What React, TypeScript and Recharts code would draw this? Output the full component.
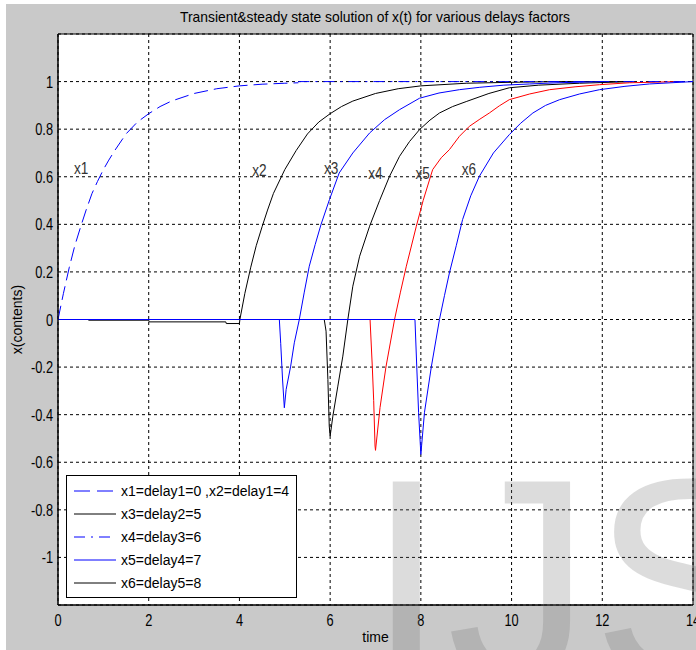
import React from 'react';
import { LineChart, Line, XAxis, YAxis, CartesianGrid, ReferenceArea, ReferenceDot, Legend } from 'recharts';

// ---------- axis ticks ----------
const xTicks = [0, 2, 4, 6, 8, 10, 12, 14];
const xTickLabels = ['0', '2', '4', '6', '8', '10', '12', '14'];
const yTicks = [-1, -0.8, -0.6, -0.4, -0.2, 0, 0.2, 0.4, 0.6, 0.8, 1];
const yTickLabels = ['-1', '-0.8', '-0.6', '-0.4', '-0.2', '0', '0.2', '0.4', '0.6', '0.8', '1'];

// ---------- series (time, value) ----------
const x1T = [0, 0.12, 0.25, 0.37, 0.5, 0.62, 0.75, 0.87, 1, 1.12, 1.25, 1.5, 1.75, 2, 2.25, 2.5, 3, 3.5, 4, 4.5, 5, 5.3];
const x1V = [0, 0.11, 0.22, 0.31, 0.39, 0.46, 0.53, 0.58, 0.63, 0.67, 0.71, 0.78, 0.83, 0.865, 0.895, 0.918, 0.95, 0.97, 0.982, 0.989, 0.993, 0.995];

const steadyT = [5.3, 14];
const steadyV = [1, 1];

const x2T = [0.67, 2, 2.01, 3.7, 3.71, 4.0, 4.01, 4.12, 4.25, 4.37, 4.5, 4.62, 4.75, 5, 5.25, 5.5, 5.75, 6, 6.25, 6.5, 7, 7.5, 8, 9, 10, 11, 12.66];
const x2V = [-0.003, -0.003, -0.01, -0.01, -0.017, -0.017, 0, 0.11, 0.22, 0.31, 0.39, 0.46, 0.53, 0.63, 0.71, 0.78, 0.83, 0.865, 0.895, 0.918, 0.95, 0.97, 0.982, 0.993, 0.997, 1, 1];

const x3T = [0, 4.88, 4.91, 4.95, 4.99, 5.03, 5.13, 5.21, 5.32, 5.43, 5.54, 5.67, 5.8, 5.985, 6.2, 6.5, 6.87, 7.2, 7.53, 7.97, 8.4, 8.85, 9.3, 9.83, 10.4, 11, 12];
const x3V = [0, 0, -0.1, -0.25, -0.371, -0.294, -0.196, -0.098, 0, 0.115, 0.224, 0.315, 0.4, 0.504, 0.616, 0.7, 0.784, 0.84, 0.882, 0.93, 0.952, 0.966, 0.976, 0.985, 0.99, 0.995, 1];

const x4T = [5.87, 5.91, 5.95, 5.98, 6.0, 6.06, 6.17, 6.28, 6.39, 6.5, 6.65, 6.87, 7.09, 7.31, 7.53, 7.75, 7.97, 8.2, 8.41, 8.7, 9.0, 9.5, 9.95, 10.6, 11.5, 12.66];
const x4V = [0, -0.049, -0.252, -0.448, -0.49, -0.406, -0.28, -0.154, 0, 0.14, 0.266, 0.392, 0.5, 0.602, 0.686, 0.748, 0.798, 0.838, 0.868, 0.895, 0.916, 0.95, 0.974, 0.985, 0.993, 1];

const x5T = [6.88, 6.93, 6.96, 6.99, 7.0, 7.1, 7.23, 7.42, 7.55, 7.68, 7.9, 8.05, 8.26, 8.45, 8.63, 8.85, 9.07, 9.3, 9.51, 9.73, 9.95, 10.4, 10.84, 11.4, 11.94, 12.6, 13.7];
const x5V = [0, -0.2, -0.34, -0.532, -0.55, -0.37, -0.2, 0, 0.115, 0.224, 0.392, 0.5, 0.63, 0.68, 0.714, 0.77, 0.812, 0.842, 0.868, 0.898, 0.924, 0.948, 0.966, 0.978, 0.987, 0.995, 1];

const x6T = [0, 7.87, 7.91, 7.95, 8.0, 8.08, 8.23, 8.41, 8.52, 8.63, 8.78, 8.92, 9.1, 9.29, 9.6, 9.95, 10.2, 10.47, 10.75, 11.06, 11.5, 11.94, 12.5, 13.04, 14];
const x6V = [0, 0, -0.2, -0.39, -0.567, -0.39, -0.2, 0, 0.1, 0.196, 0.31, 0.42, 0.52, 0.602, 0.7, 0.777, 0.825, 0.868, 0.9, 0.924, 0.948, 0.966, 0.98, 0.99, 1];

// curve name annotations and where they sit (data coords)
const curveNames = ['x1', 'x2', 'x3', 'x4', 'x5', 'x6'];
const curveNameT = [0.51, 4.44, 6.02, 7.0, 8.04, 9.06];
const curveNameV = [0.637, 0.63, 0.637, 0.616, 0.616, 0.633];

// legend entries
const legendLabels = ['x1=delay1=0 ,x2=delay1=4', 'x3=delay2=5', 'x4=delay3=6', 'x5=delay4=7', 'x6=delay5=8'];

const zip = (ts: number[], vs: number[]) => ts.map((t, i) => ({ t, v: vs[i] }));

const BLUE = '#0000ff';
const BLACK = '#000000';
const RED = '#ff0000';
const FONT = '"Liberation Sans", Arial, sans-serif';

const legendColors = [BLUE, BLACK, BLUE, BLUE, BLACK];
const legendDash = ['16 7', undefined, '11 6 2 6', undefined, undefined];

const XTick = (props: any) => {
  const { x, y, payload } = props;
  const idx = xTicks.indexOf(payload.value);
  return (
    <text transform={`translate(${x} ${y + 21}) scale(0.8 1)`} textAnchor="middle" fontFamily={FONT} fontSize={16} fill="#000">
      {idx >= 0 ? xTickLabels[idx] : payload.value}
    </text>
  );
};

const YTick = (props: any) => {
  const { x, y, payload } = props;
  const idx = yTicks.findIndex((v) => Math.abs(v - payload.value) < 1e-9);
  return (
    <text transform={`translate(${x} ${y + 6}) scale(0.8 1)`} textAnchor="end" fontFamily={FONT} fontSize={16} fill="#000">
      {idx >= 0 ? yTickLabels[idx] : payload.value}
    </text>
  );
};

const LegendBox = () => (
  <svg width={232} height={124} style={{ display: 'block' }}>
    <rect x={0.5} y={0.5} width={230} height={122} fill="#fff" stroke="#000" strokeWidth={1} />
    {legendLabels.map((lab, i) => {
      const y = 16 + i * 23;
      return (
        <g key={lab}>
          <line x1={8} x2={50} y1={y} y2={y} stroke={legendColors[i]} strokeWidth={1} strokeDasharray={legendDash[i]} />
          <text x={55} y={y + 5} fontFamily={FONT} fontSize={14} fill="#000">{lab}</text>
        </g>
      );
    })}
  </svg>
);

export default function App() {
  return (
    <div style={{ position: 'absolute', left: 0, top: 0, width: 696, height: 650, background: '#fff', overflow: 'hidden' }}>
      <div style={{ position: 'absolute', left: 6, top: 4, width: 690, height: 646, background: '#c9c9c9' }} />
      <div style={{ position: 'absolute', left: 0, top: 0 }}>
        <LineChart width={696} height={650} margin={{ top: 34, right: 3, bottom: 0, left: 0 }}>
          <CartesianGrid stroke="#000" strokeDasharray="3 3" fill="#fff" fillOpacity={1} />
          <XAxis
            dataKey="t"
            type="number"
            domain={[0, 14]}
            ticks={xTicks}
            interval={0}
            allowDataOverflow
            height={45}
            tickSize={0}
            tickMargin={0}
            tickLine={false}
            axisLine={{ stroke: '#000' }}
            tick={<XTick />}
            label={{
              content: (p: any) => (
                <text x={p.viewBox.x + p.viewBox.width / 2} y={642} textAnchor="middle" fontFamily={FONT} fontSize={14} fill="#000">
                  time
                </text>
              ),
            }}
          />
          <YAxis
            type="number"
            domain={[-1.2, 1.2]}
            ticks={yTicks}
            interval={0}
            allowDataOverflow
            width={58}
            tickSize={0}
            tickMargin={5}
            tickLine={false}
            axisLine={{ stroke: '#000' }}
            tick={<YTick />}
            label={{
              content: (p: any) => {
                const cy = p.viewBox.y + p.viewBox.height / 2;
                return (
                  <text x={22} y={cy} transform={`rotate(-90 22 ${cy})`} textAnchor="middle" fontFamily={FONT} fontSize={14} fill="#000">
                    x(contents)
                  </text>
                );
              },
            }}
          />
          <Line data={zip(x2T, x2V)} dataKey="v" stroke={BLACK} strokeWidth={1} dot={false} isAnimationActive={false} />
          <Line data={zip(x4T, x4V)} dataKey="v" stroke={BLACK} strokeWidth={1} dot={false} isAnimationActive={false} />
          <Line data={zip(x5T, x5V)} dataKey="v" stroke={RED} strokeWidth={1} dot={false} isAnimationActive={false} />
          <Line data={zip(x3T, x3V)} dataKey="v" stroke={BLUE} strokeWidth={1} dot={false} isAnimationActive={false} />
          <Line data={zip(x6T, x6V)} dataKey="v" stroke={BLUE} strokeWidth={1} dot={false} isAnimationActive={false} />
          <Line data={zip(x1T, x1V)} dataKey="v" stroke={BLUE} strokeWidth={1} strokeDasharray="14 6" dot={false} isAnimationActive={false} />
          <Line data={zip(steadyT, steadyV)} dataKey="v" stroke={BLUE} strokeWidth={1} strokeDasharray="11 6 2 6" dot={false} isAnimationActive={false} />
          {curveNames.map((n, i) => (
            <ReferenceDot
              key={n}
              x={curveNameT[i]}
              y={curveNameV[i]}
              r={0}
              shape={(p: any) => (
                <text transform={`translate(${p.cx} ${p.cy + 6}) scale(0.85 1)`} textAnchor="middle" fontFamily={FONT} fontSize={16} fill="#333">
                  {n}
                </text>
              )}
            />
          ))}
          <ReferenceArea x1={0} x2={14} y1={-1.2} y2={1.2} fill="none" fillOpacity={0} stroke="#000" strokeWidth={1} />
          <Legend
            layout="vertical"
            align="center"
            verticalAlign="middle"
            wrapperStyle={{ left: 66, top: 475, width: 232, height: 124 }}
            content={() => <LegendBox />}
          />
        </LineChart>
      </div>
      <svg width={696} height={650} style={{ position: 'absolute', left: 0, top: 0, pointerEvents: 'none' }}>
        <text x={375} y={22} textAnchor="middle" fontFamily={FONT} fontSize={15} fill="#000" textLength={390} lengthAdjust="spacingAndGlyphs">
          Transient&amp;steady state solution of x(t) for various delays factors
        </text>
        <text x={366} y={681} fontFamily={FONT} fontSize={290} fill="rgb(107,107,107)" fillOpacity={0.24}>
          IJS
        </text>
      </svg>
    </div>
  );
}
